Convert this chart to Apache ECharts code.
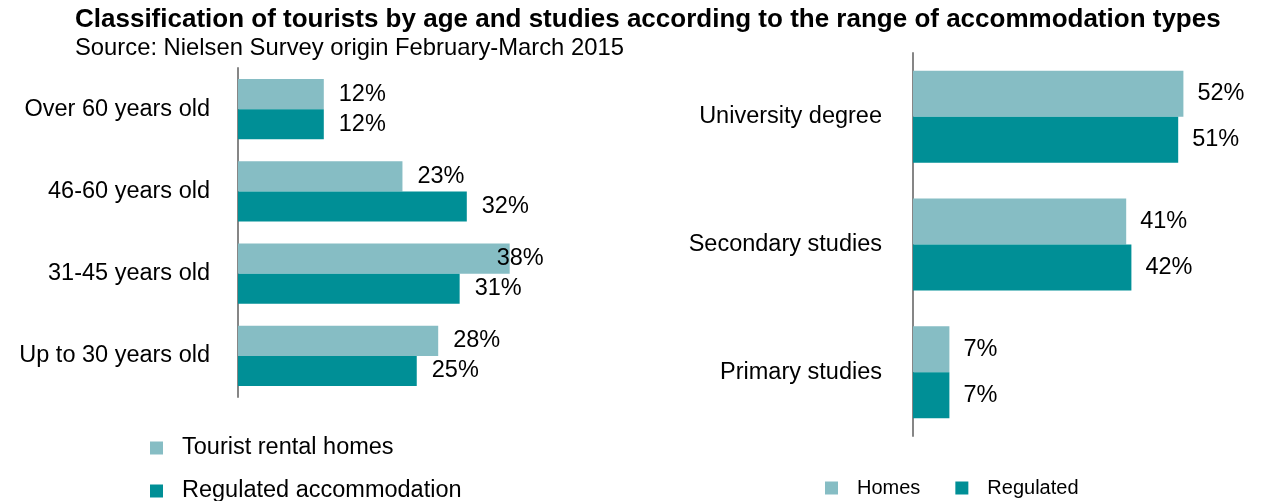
<!DOCTYPE html>
<html>
<head>
<meta charset="utf-8">
<script src="https://cdn.jsdelivr.net/npm/echarts@6/dist/echarts.min.js"></script>
<style>
html,body{margin:0;padding:0;background:#fff;}
#chart{width:1263px;height:501px;}
</style>
</head>
<body>
<div id="chart"></div>
<script>
const titleText = 'Classification of tourists by age and studies according to the range of accommodation types';
const subtitleText = 'Source: Nielsen Survey origin February-March 2015';

const ageCategories = ['Over 60 years old', '46-60 years old', '31-45 years old', 'Up to 30 years old'];
const ageHomes = [12, 23, 38, 28];
const ageRegulated = [12, 32, 31, 25];

const studyCategories = ['University degree', 'Secondary studies', 'Primary studies'];
const studyHomes = [52, 41, 7];
const studyRegulated = [51, 42, 7];

const leftNames = ['Tourist rental homes', 'Regulated accommodation'];
const rightNames = ['Homes', 'Regulated'];

const LIGHT = '#86BDC4';
const DARK = '#008F96';
const FONT = 'Liberation Sans, Arial, sans-serif';

const chart = echarts.init(document.getElementById('chart'), null, {renderer: 'canvas'});

const labelStyle = {
  show: true, position: 'right', distance: 15,
  formatter: p => p.value + '%',
  color: '#000', fontSize: 23.5, fontFamily: FONT
};

const catAxis = (idx, data) => ({
  type: 'category', gridIndex: idx, data: data, inverse: true,
  axisLine: {show: true, lineStyle: {color: '#868686', width: 2}},
  axisTick: {show: false},
  axisLabel: {color: '#000', fontSize: 23.5, fontFamily: FONT, margin: idx === 0 ? 28 : 31}
});

const valAxis = (idx, max) => ({
  type: 'value', gridIndex: idx, min: 0, max: max, interval: 10,
  show: false, splitLine: {show: false}
});

const legendBase = {
  itemWidth: 13, itemHeight: 13, icon: 'rect'
};

const option = {
  backgroundColor: '#fff',
  animation: false,
  title: {
    text: titleText, subtext: subtitleText,
    left: 75, top: 7, itemGap: 3, padding: 0,
    textStyle: {fontSize: 26, fontWeight: 'bold', color: '#000', fontFamily: FONT},
    subtextStyle: {fontSize: 23.8, color: '#000', fontFamily: FONT}
  },
  grid: [
    {left: 238, top: 68, width: 357.5, height: 329},
    {left: 913, top: 53, width: 312, height: 383}
  ],
  xAxis: [valAxis(0, 50), valAxis(1, 60)],
  yAxis: [catAxis(0, ageCategories), catAxis(1, studyCategories)],
  legend: [
    Object.assign({}, legendBase, {
      data: [leftNames[0]], left: 145, top: 431,
      textStyle: {fontSize: 23.5, color: '#000', fontFamily: FONT, padding: [0, 0, 0, 14]}
    }),
    Object.assign({}, legendBase, {
      data: [leftNames[1]], left: 145, top: 474,
      textStyle: {fontSize: 23.5, color: '#000', fontFamily: FONT, padding: [0, 0, 0, 14]}
    }),
    Object.assign({}, legendBase, {
      data: rightNames, orient: 'horizontal', left: 820, top: 473, itemGap: 35,
      textStyle: {fontSize: 20, color: '#000', fontFamily: FONT, padding: [0, 0, 0, 14]}
    })
  ],
  series: [
    {
      name: leftNames[0], type: 'bar', xAxisIndex: 0, yAxisIndex: 0,
      data: ageHomes.map((v, i) => i === 2 ? {value: v, label: {offset: [-28, 0]}} : v),
      itemStyle: {color: LIGHT}, barGap: '0%', barCategoryGap: '27%', label: labelStyle
    },
    {
      name: leftNames[1], type: 'bar', xAxisIndex: 0, yAxisIndex: 0,
      data: ageRegulated, itemStyle: {color: DARK}, barGap: '0%', barCategoryGap: '27%', label: labelStyle
    },
    {
      name: rightNames[0], type: 'bar', xAxisIndex: 1, yAxisIndex: 1,
      data: studyHomes, itemStyle: {color: LIGHT}, barGap: '0%', barCategoryGap: '28%',
      label: Object.assign({}, labelStyle, {distance: 14})
    },
    {
      name: rightNames[1], type: 'bar', xAxisIndex: 1, yAxisIndex: 1,
      data: studyRegulated, itemStyle: {color: DARK}, barGap: '0%', barCategoryGap: '28%',
      label: Object.assign({}, labelStyle, {distance: 14})
    }
  ]
};
chart.setOption(option);
</script>
</body>
</html>
